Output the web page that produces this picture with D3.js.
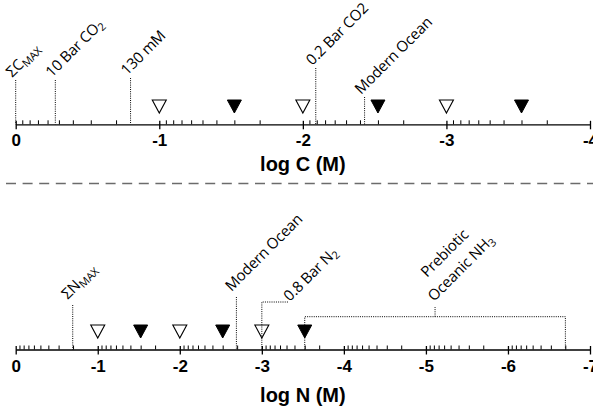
<!DOCTYPE html>
<html>
<head>
<meta charset="utf-8">
<script src="https://cdn.jsdelivr.net/npm/d3@7"></script>
<style>
  body { margin: 0; background: #fff; }
  svg { display: block; }
  .ticklab { font-family: 'Liberation Sans', Arial, sans-serif; font-weight: bold; font-size: 17px; }
  .reflab { font-family: 'Open Sans', sans-serif; font-size: 15px; letter-spacing: -0.2px; }
</style>
</head>
<body>
<div id="chart"></div>
<script>
  // major tick labels on each axis
  var cTickValues = [0, -1, -2, -3, -4];
  var nTickValues = [0, -1, -2, -3, -4, -5, -6, -7];

  // triangle markers (log M)
  var openMarks = [-1, -2, -3];
  var filledMarks = [-1.523, -2.523, -3.523];

  // reference concentrations, top panel (log C)
  var cRefNames = ["ΣC_MAX", "10 Bar CO_2", "130 mM", "0.2 Bar CO2", "Modern Ocean"];
  var cRefValues = [0, -0.276, -0.8, -2.09, -2.43];

  // reference concentrations, bottom panel (log N)
  var nRefNames = ["ΣN_MAX", "Modern Ocean", "0.8 Bar N_2"];
  var nRefValues = [-0.695, -2.69, -3];
  var nh3Range = [-3.523, -6.7];
  var nh3Lines = ["Prebiotic", "Oceanic NH_3"];

  var width = 593, height = 413;

  var svg = d3.select("#chart")
    .append("svg")
    .attr("width", width)
    .attr("height", height);

  var xc = d3.scaleLinear().domain([0, -4]).range([15.7, 590]);
  var xn = d3.scaleLinear().domain([0, -7]).range([15.7, 590]);

  var axisC = 124.3, axisN = 349.5;

  // log minor ticks inside each decade
  function minorTicks(lo) {
    var out = [];
    for (var d = 0; d > lo; d--) {
      for (var k = 2; k <= 9; k++) out.push(d + Math.log10(k / 10));
    }
    return out;
  }

  function drawAxis(scale, ticks, y, title, titleY) {
    var g = svg.append("g").attr("transform", "translate(0," + y + ")");

    g.append("g")
      .call(d3.axisBottom(scale).tickValues(minorTicks(ticks[ticks.length - 1]))
        .tickSize(-4).tickSizeOuter(0).tickFormat(""))
      .call(function(a) { a.select(".domain").remove(); })
      .selectAll("line").attr("stroke", "#000").attr("stroke-width", 1);

    var major = g.append("g")
      .call(d3.axisBottom(scale).tickValues(ticks).tickSize(5).tickSizeOuter(0)
        .tickPadding(5).tickFormat(function(d) { return String(d); }))
      .attr("font-size", null)
      .attr("font-family", null);
    major.select(".domain").attr("stroke", "#000").attr("stroke-width", 1.3);
    major.selectAll(".tick line").attr("y1", -3.5).attr("stroke-width", 1.3);
    major.selectAll(".tick text")
      .attr("class", "ticklab")
      .attr("fill", "#000");

    svg.append("text")
      .attr("x", (scale.range()[0] + scale.range()[1]) / 2)
      .attr("y", titleY)
      .attr("text-anchor", "middle")
      .attr("font-family", "'Liberation Sans', Arial, sans-serif")
      .attr("font-weight", "bold")
      .attr("font-size", 20)
      .text(title);
  }

  drawAxis(xc, cTickValues, axisC, "log C (M)", 171);
  drawAxis(xn, nTickValues, axisN, "log N (M)", 401.5);

  // separator
  svg.append("line")
    .attr("x1", 6).attr("x2", width)
    .attr("y1", 183.5).attr("y2", 183.5)
    .attr("stroke", "#6b6b6b")
    .attr("stroke-width", 1.4)
    .attr("stroke-dasharray", "10,6.6");

  function tri(x, top) {
    return "M" + (x - 7) + "," + top + "L" + (x + 7) + "," + top + "L" + x + "," + (top + 13) + "Z";
  }

  function drawMarks(scale, top) {
    svg.selectAll(null).data(openMarks).enter().append("path")
      .attr("d", function(d) { return tri(scale(d), top); })
      .attr("fill", "#fff").attr("stroke", "#000").attr("stroke-width", 1.1);
    svg.selectAll(null).data(filledMarks).enter().append("path")
      .attr("d", function(d) { return tri(scale(d), top); })
      .attr("fill", "#000").attr("stroke", "#000").attr("stroke-width", 1);
  }

  drawMarks(xc, 100);
  drawMarks(xn, 325);

  function dotted(pts) {
    svg.append("path")
      .attr("d", d3.line()(pts))
      .attr("fill", "none")
      .attr("stroke", "#000")
      .attr("stroke-width", 1)
      .attr("stroke-dasharray", "1,1.2");
  }

  function label(str, ox, oy, dx, dy) {
    var g = svg.append("g")
      .attr("transform", "translate(" + ox + "," + oy + ") rotate(-45)");
    var t = g.append("text")
      .attr("class", "reflab")
      .attr("x", dx || 0).attr("y", dy || 0)
      .attr("fill", "#000");
    var parts = str.split("_");
    t.append("tspan").text(parts[0]);
    if (parts[1]) {
      t.append("tspan").attr("font-size", 11).attr("dy", 3).text(parts[1]);
    }
  }

  // top panel reference lines
  var cRefTop = [80, 80, 78, 68, 97];
  cRefValues.forEach(function(v, i) {
    var x = xc(v);
    dotted([[x, cRefTop[i]], [x, axisC]]);
    label(cRefNames[i], x - 3.5, cRefTop[i] - 2);
  });

  // bottom panel reference lines
  var nRefTop = [305, 297, 302];
  nRefValues.forEach(function(v, i) {
    var x = xn(v);
    if (i === 2) {
      dotted([[x, axisN], [x, nRefTop[i]], [x + 27, nRefTop[i]]]);
      label(nRefNames[i], x + 28, nRefTop[i]);
    } else {
      dotted([[x, nRefTop[i]], [x, axisN]]);
      label(nRefNames[i], x - 5, nRefTop[i] - 5);
    }
  });

  // prebiotic NH3 bracket
  var bx0 = xn(nh3Range[0]), bx1 = xn(nh3Range[1]), by = 316.7;
  var bmid = (bx0 + bx1) / 2;
  dotted([[bx0, axisN], [bx0, by], [bx1, by], [bx1, axisN]]);
  dotted([[bmid, by], [bmid, 307]]);
  label(nh3Lines[1], bmid - 1, 302);
  label(nh3Lines[0], bmid - 1, 302, 12, -22);
</script>
</body>
</html>
